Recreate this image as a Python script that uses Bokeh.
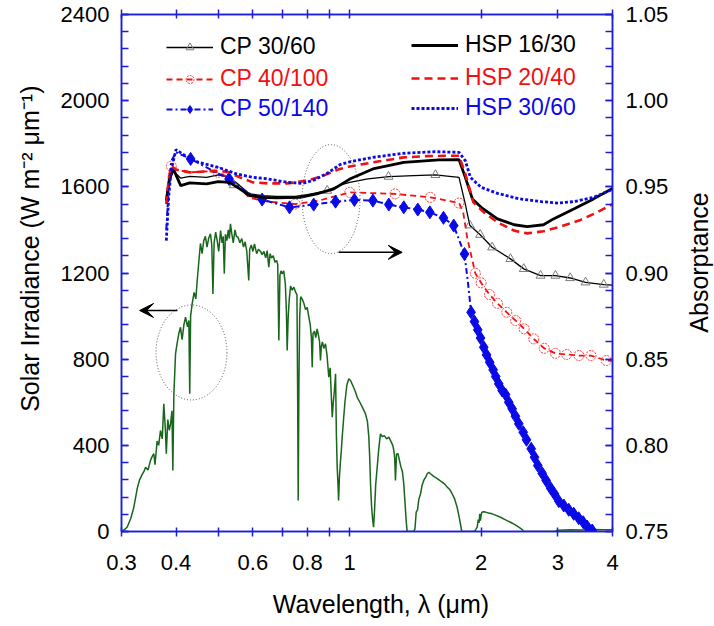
import math
from bokeh.plotting import figure
from bokeh.layouts import row
from bokeh.models import (Range1d, LinearAxis, LogAxis, FixedTicker, NumeralTickFormatter,
                          Legend, LegendItem, Arrow, VeeHead, Label)
from bokeh.embed import file_html
from bokeh.resources import INLINE

# ---------------- data ----------------
# Solar spectral irradiance (W m^-2 um^-1), left axis
SOL_WL = [0.300, 0.305, 0.309, 0.315, 0.320, 0.326, 0.330, 0.334, 0.338, 0.3406,
          0.345, 0.3496, 0.353, 0.3558, 0.358, 0.362, 0.365, 0.3685, 0.372, 0.375,
          0.378, 0.380, 0.383, 0.386, 0.3886, 0.3915, 0.3933, 0.3955, 0.399, 0.402,
          0.406, 0.4096, 0.413, 0.417, 0.4206, 0.425, 0.428, 0.430, 0.432, 0.4355,
          0.440, 0.444, 0.4473, 0.451, 0.455, 0.459, 0.463, 0.467, 0.471, 0.475,
          0.4797, 0.483, 0.486, 0.489, 0.493, 0.497, 0.501, 0.506, 0.510, 0.513,
          0.516, 0.519, 0.523, 0.527, 0.530, 0.533, 0.537, 0.541, 0.546, 0.550,
          0.555, 0.560, 0.566, 0.571, 0.576, 0.581, 0.587, 0.590, 0.595, 0.600,
          0.605, 0.612, 0.618, 0.6246, 0.630, 0.636, 0.642, 0.647, 0.6525, 0.657,
          0.662, 0.668, 0.674, 0.680, 0.684, 0.688, 0.692, 0.696, 0.700, 0.706,
          0.712, 0.716, 0.719, 0.723, 0.727, 0.732, 0.738, 0.745, 0.752, 0.757,
          0.760, 0.762, 0.765, 0.768, 0.772, 0.778, 0.785, 0.792, 0.799, 0.806,
          0.812, 0.817, 0.8205, 0.824, 0.830, 0.836, 0.842, 0.848, 0.853, 0.857,
          0.861, 0.866, 0.872, 0.880, 0.887, 0.8955, 0.902, 0.907, 0.912, 0.917,
          0.922, 0.928, 0.932, 0.936, 0.940, 0.943, 0.947, 0.952, 0.957, 0.961,
          0.968, 0.975, 0.985, 0.995, 1.005, 1.015, 1.030, 1.040, 1.055, 1.070,
          1.087, 1.098, 1.106, 1.111, 1.116, 1.122, 1.128, 1.134, 1.140, 1.147,
          1.156, 1.165, 1.176, 1.188, 1.200, 1.215, 1.229, 1.245, 1.255, 1.262,
          1.268, 1.273, 1.280, 1.290, 1.300, 1.310, 1.320, 1.330, 1.340, 1.347,
          1.353, 1.360, 1.400, 1.410, 1.414, 1.420, 1.430, 1.440, 1.453, 1.465,
          1.480, 1.495, 1.505, 1.518, 1.531, 1.545, 1.560, 1.575, 1.586, 1.605,
          1.625, 1.650, 1.6725, 1.695, 1.717, 1.740, 1.762, 1.780, 1.793, 1.806,
          1.930, 1.945, 1.959, 1.970, 1.978, 1.986, 1.993, 2.000, 2.007, 2.020,
          2.047, 2.080, 2.12, 2.165, 2.215, 2.27, 2.335, 2.39, 2.44, 2.48,
          2.505, 2.95, 3.0, 3.2, 3.4, 3.6, 3.8, 4.0]
SOL_E = [0, 10, 20, 60, 110, 200, 240, 262, 280, 298,
         285, 330, 350, 361, 310, 420, 400, 469, 430, 593,
         480, 361, 520, 470, 500, 560, 283, 640, 826, 870,
         920, 948, 890, 960, 995, 950, 980, 639, 1000, 1057,
         1110, 1080, 1165, 1250, 1337, 1290, 1350, 1370, 1320, 1360,
         1382, 1330, 1103, 1340, 1390, 1350, 1300, 1397, 1340, 1370,
         1197, 1380, 1350, 1400, 1360, 1428, 1380, 1340, 1400, 1370,
         1366, 1340, 1360, 1320, 1345, 1300, 1165, 1310, 1330, 1300,
         1335, 1290, 1310, 1300, 1285, 1300, 1270, 1304, 1227, 1290,
         1270, 1280, 1250, 1258, 1240, 887, 1190, 1210, 1196, 1210,
         1150, 1020, 840, 1000, 1080, 1140, 1120, 1134, 1110, 1100,
         600, 144, 700, 1000, 1090, 1080, 1060, 1030, 1040, 995,
         960, 900, 763, 920, 930, 900, 941, 910, 880, 794,
         860, 880, 850, 871, 820, 716, 760, 640, 531, 600,
         650, 732, 453, 300, 220, 144, 250, 320, 380, 438,
         520, 600, 680, 709, 700, 680, 650, 623, 600, 575,
         546, 510, 438, 350, 221, 120, 60, 20, 100, 220,
         298, 380, 453, 440, 445, 430, 438, 415, 400, 376,
         340, 237, 360, 361, 330, 300, 280, 221, 120, 50,
         5, 0, 0, 10, 37, 90, 100, 150, 175, 215,
         240, 255, 268, 275, 268, 262, 255, 250, 245, 238,
         230, 220, 206, 195, 175, 150, 113, 70, 36, 0,
         0, 10, 20, 55, 40, 82, 50, 75, 88, 92,
         90, 86, 82, 75, 66, 55, 43, 32, 20, 10,
         0, 0, 6, 8, 7, 9, 8, 8]

# Absorptance series (right axis)
CP30_WL = [0.38, 0.385, 0.39, 0.395, 0.41, 0.43, 0.47, 0.50, 0.53, 0.56, 0.59, 0.63, 0.68,
           0.75, 0.80, 0.89, 0.95, 1.0, 1.1, 1.23, 1.4, 1.57, 1.78, 1.84, 1.884, 1.99,
           2.12, 2.335, 2.505, 2.736, 2.96, 3.2, 3.47, 3.82, 4.0]
CP30_A = [0.944, 0.952, 0.956, 0.959, 0.955, 0.9561, 0.9555, 0.9569, 0.9555, 0.9507, 0.9459,
          0.9449, 0.9445, 0.9445, 0.9455, 0.9478, 0.951, 0.9526, 0.9546, 0.9559, 0.9565,
          0.9569, 0.9555, 0.940, 0.9277, 0.9222, 0.9149, 0.9082, 0.9024, 0.8985, 0.8985,
          0.8971, 0.8946, 0.8933, 0.893]
CP30_MK_WL = [0.542, 0.888, 1.227, 1.572, 1.884, 1.99, 2.12, 2.335, 2.505, 2.736, 2.96, 3.2,
              3.47, 3.82]
CP30_MK_A = [0.951, 0.9478, 0.9559, 0.9569, 0.9277, 0.9222, 0.9149, 0.9082, 0.9024, 0.8985,
             0.8985, 0.8971, 0.8946, 0.8933]

CP40_WL = [0.38, 0.385, 0.39, 0.40, 0.43, 0.47, 0.50, 0.53, 0.56, 0.59, 0.65, 0.75, 0.85,
           0.94, 1.0, 1.27, 1.53, 1.78, 1.82, 1.86, 1.94, 2.0, 2.09, 2.18, 2.29, 2.40, 2.51,
           2.64, 2.79, 2.96, 3.14, 3.35, 3.57, 3.87, 4.0]
CP40_A = [0.940, 0.955, 0.962, 0.960, 0.9584, 0.959, 0.9584, 0.955, 0.949, 0.9436, 0.9414,
          0.940, 0.942, 0.9449, 0.9468, 0.9459, 0.9439, 0.9406, 0.935, 0.920, 0.8998, 0.8943,
          0.8875, 0.8824, 0.8772, 0.8724, 0.8676, 0.8618, 0.8563, 0.8534, 0.8527, 0.8521,
          0.8521, 0.8492, 0.849]
CP40_MK_WL = [0.39, 0.50, 0.75, 1.0, 1.27, 1.53, 1.78, 1.94, 2.0, 2.09, 2.18, 2.29, 2.40,
              2.51, 2.64, 2.79, 2.96, 3.14, 3.35, 3.57, 3.87]
CP40_MK_A = [0.962, 0.9584, 0.940, 0.9468, 0.9459, 0.9439, 0.9406, 0.8998, 0.8943, 0.8875,
             0.8824, 0.8772, 0.8724, 0.8676, 0.8618, 0.8563, 0.8534, 0.8527, 0.8521, 0.8521,
             0.8492]

CP50_MK_WL = [0.432, 0.529, 0.63, 0.728, 0.827, 0.928, 1.025, 1.13, 1.229, 1.33, 1.432,
              1.526, 1.64, 1.731, 1.832, 1.897, 1.931, 1.965, 1.994, 2.028, 2.058, 2.093,
              2.131, 2.16, 2.195, 2.235, 2.275, 2.314, 2.356, 2.397, 2.44, 2.4975, 2.541,
              2.605, 2.651, 2.697, 2.76, 2.819, 2.883, 2.946, 3.013, 3.093, 3.176, 3.26,
              3.347, 3.427, 3.5, 3.594]
CP50_MK_A = [0.9662, 0.9546, 0.9426, 0.9381, 0.9397, 0.9414, 0.9424, 0.942, 0.9397, 0.9381,
             0.9368, 0.9352, 0.932, 0.9275, 0.911, 0.8772, 0.8718, 0.867, 0.8623, 0.8569,
             0.8525, 0.8482, 0.8438, 0.8399, 0.8357, 0.8318, 0.8295, 0.825, 0.8212, 0.8169,
             0.8125, 0.8076, 0.8032, 0.798, 0.7931, 0.7883, 0.7838, 0.7796, 0.7753, 0.7718,
             0.7676, 0.7651, 0.7626, 0.7603, 0.7577, 0.7554, 0.7529, 0.7506]
CP50_WL = [0.38, 0.385, 0.39, 0.40, 0.432, 0.48, 0.529, 0.58, 0.63, 0.728, 0.827, 0.928,
           1.025, 1.13, 1.229, 1.33, 1.432, 1.526, 1.64, 1.731, 1.832, 1.865] + CP50_MK_WL[15:] + [3.65]
CP50_A = [0.925, 0.950, 0.965, 0.970, 0.9662, 0.960, 0.9546, 0.947, 0.9426, 0.9381, 0.9397,
          0.9414, 0.9424, 0.942, 0.9397, 0.9381, 0.9368, 0.9352, 0.932, 0.9275, 0.911,
          0.895] + CP50_MK_A[15:] + [0.748]

HSP16_WL = [0.38, 0.385, 0.39, 0.395, 0.41, 0.43, 0.47, 0.50, 0.53, 0.56, 0.59, 0.63, 0.68,
            0.77, 0.84, 0.92, 0.95, 1.0, 1.13, 1.33, 1.6, 1.78, 1.84, 1.91, 2.0, 2.18, 2.38,
            2.55, 2.78, 2.93, 3.26, 3.62, 3.94, 4.0]
HSP16_A = [0.942, 0.952, 0.958, 0.960, 0.9507, 0.9523, 0.9517, 0.953, 0.9526, 0.9488, 0.9449,
           0.9439, 0.9436, 0.9439, 0.9459, 0.9488, 0.951, 0.9545, 0.9604, 0.9642, 0.9656,
           0.9658, 0.9555, 0.943, 0.9381, 0.9314, 0.928, 0.9269, 0.928, 0.9314, 0.9372,
           0.943, 0.9482, 0.949]

HSP20_WL = [0.38, 0.385, 0.39, 0.40, 0.43, 0.47, 0.50, 0.53, 0.56, 0.60, 0.65, 0.72, 0.80,
            0.87, 0.94, 1.0, 1.13, 1.33, 1.5, 1.65, 1.78, 1.84, 1.92, 2.03, 2.18, 2.38, 2.55,
            2.78, 3.04, 3.38, 3.69, 3.94, 4.0]
HSP20_A = [0.940, 0.955, 0.962, 0.960, 0.9584, 0.959, 0.9594, 0.9584, 0.9555, 0.9526, 0.952,
           0.952, 0.9536, 0.9565, 0.960, 0.9618, 0.9642, 0.9671, 0.9678, 0.968, 0.968, 0.9575,
           0.941, 0.9352, 0.9294, 0.9246, 0.923, 0.9242, 0.9269, 0.9308, 0.9352, 0.9391, 0.940]

HSP30_WL = [0.38, 0.385, 0.39, 0.40, 0.42, 0.45, 0.50, 0.55, 0.60, 0.65, 0.72, 0.78, 0.83,
            0.89, 0.95, 1.0, 1.13, 1.32, 1.57, 1.78, 1.84, 1.89, 2.0, 2.18, 2.45, 2.75, 3.0,
            3.26, 3.62, 3.94, 4.0]
HSP30_A = [0.9188, 0.945, 0.960, 0.9716, 0.968, 0.9642, 0.9613, 0.9575, 0.9555, 0.9546,
           0.9526, 0.952, 0.954, 0.958, 0.9629, 0.9645, 0.9671, 0.9694, 0.9704, 0.970, 0.9652,
           0.9555, 0.9497, 0.9462, 0.943, 0.9414, 0.9406, 0.9414, 0.9439, 0.9478, 0.949]

X_TICKS = [0.3, 0.4, 0.5, 0.6, 0.7, 0.8, 0.9, 1, 2, 3, 4]
X_LABELS = {0.3: "0.3", 0.4: "0.4", 0.5: "", 0.6: "0.6", 0.7: "", 0.8: "0.8", 0.9: "",
            1: "1", 2: "2", 3: "3", 4: "4"}
Y_TICKS = [0, 400, 800, 1200, 1600, 2000, 2400]
A_TICKS = [0.75, 0.80, 0.85, 0.90, 0.95, 1.00, 1.05]

NB = "\u00a0"
X_TITLE = NB * 4 + "Wavelength, \u03bb (\u03bcm)"
Y_TITLE = NB * 7 + "Solar Irradiance (W m\u207b\u00b2 \u03bcm\u207b\u00b9)"
Y2_TITLE = "Absorptance"

# annotation positions (data coordinates) and ellipse sizes (px)
ELL_X = [0.434, 0.906]
ELL_Y = [831, 1543]
ELL_W = [71, 58]
ELL_H = [95, 109]
ARROWS = [(0.403, 1026, 0.330, 1026), (0.943, 1296, 1.319, 1296)]

# ---------------- styling ----------------
FONT = "Liberation Sans"
AXC = "#1e1ed8"
RED = "#f01010"
BLUE = "#0a0ae6"
GREEN = "#17661b"
FW, FH = 491, 517
B_L, B_R, B_T, B_B = 121, 70, 14, 86
TOTAL_H = B_T + FH + B_B
SIDE_W = 32
Y2_TITLE_Y = 266   # screen px from the bottom of the side strip

p = figure(x_axis_type="log", x_range=Range1d(0.3, 4), y_range=Range1d(0, 2400),
           frame_width=FW, frame_height=FH, output_backend="svg", toolbar_location=None,
           min_border_left=B_L, min_border_right=B_R, min_border_top=B_T,
           min_border_bottom=B_B, background_fill_color="white", border_fill_color="white")
p.extra_y_ranges = {"abs": Range1d(0.75, 1.05)}
p.xgrid.grid_line_color = None
p.ygrid.grid_line_color = None
p.outline_line_color = AXC
p.outline_line_width = 1.5


def style_axis(ax):
    ax.axis_line_color = AXC
    ax.axis_line_width = 1.5
    ax.major_tick_line_color = AXC
    ax.minor_tick_line_color = AXC
    ax.major_tick_line_width = 1.5
    ax.minor_tick_line_width = 1.5
    ax.major_label_text_font = FONT
    ax.major_label_text_font_size = "22px"
    ax.major_label_text_color = "black"
    ax.axis_label_text_font = FONT
    ax.axis_label_text_font_size = "25px"
    ax.axis_label_text_font_style = "normal"
    ax.axis_label_text_color = "black"


xa = p.xaxis[0]
style_axis(xa)
xa.ticker = FixedTicker(ticks=X_TICKS, minor_ticks=[])
xa.major_label_overrides = X_LABELS
xa.major_tick_in = 4
xa.major_tick_out = 5
xa.major_label_standoff = 18
xa.axis_label = X_TITLE
xa.axis_label_standoff = 17

top = LogAxis(ticker=FixedTicker(ticks=X_TICKS, minor_ticks=[]))
style_axis(top)
top.major_label_text_font_size = "0px"
top.major_label_text_color = None
top.major_label_standoff = 0
top.major_tick_in = 4
top.major_tick_out = 5
p.add_layout(top, "above")

ya = p.yaxis[0]
style_axis(ya)
ya.ticker = FixedTicker(ticks=Y_TICKS, minor_ticks=[80 * i for i in range(31)])
ya.major_tick_in = 7
ya.major_tick_out = 0
ya.minor_tick_in = 7
ya.minor_tick_out = 0
ya.major_label_standoff = 12
ya.axis_label = Y_TITLE
ya.axis_label_standoff = 14

ra = LinearAxis(y_range_name="abs",
                ticker=FixedTicker(ticks=A_TICKS,
                                   minor_ticks=[round(0.75 + 0.01 * i, 2) for i in range(31)]),
                formatter=NumeralTickFormatter(format="0.00"))
style_axis(ra)
ra.major_tick_in = 7
ra.major_tick_out = 0
ra.minor_tick_in = 7
ra.minor_tick_out = 0
ra.major_label_standoff = 13
p.add_layout(ra, "right")

# ---------------- glyphs ----------------
p.line(SOL_WL, SOL_E, line_color=GREEN, line_width=1.5)

r_cp30 = p.line(CP30_WL, CP30_A, y_range_name="abs", line_color="black", line_width=1.3)
m_cp30 = p.scatter(CP30_MK_WL, CP30_MK_A, y_range_name="abs", marker="triangle", size=9,
                   fill_color=None, line_color="#7a7a7a", line_width=1)
r_cp40 = p.line(CP40_WL, CP40_A, y_range_name="abs", line_color=RED, line_width=1.8,
                line_dash="6 4")
m_cp40 = p.scatter(CP40_MK_WL, CP40_MK_A, y_range_name="abs", marker="circle", size=10,
                   fill_color=None, line_color="#ff3b3b", line_width=1, line_dash="2 1")
r_cp50 = p.line(CP50_WL, CP50_A, y_range_name="abs", line_color=BLUE, line_width=2,
                line_dash="6 3 2 3")
m_cp50 = p.scatter(CP50_MK_WL, CP50_MK_A, y_range_name="abs", marker="diamond", size=13,
                   fill_color=BLUE, line_color=BLUE)
r_h16 = p.line(HSP16_WL, HSP16_A, y_range_name="abs", line_color="black", line_width=2.8)
r_h20 = p.line(HSP20_WL, HSP20_A, y_range_name="abs", line_color=RED, line_width=2.6,
               line_dash="8 5")
r_h30 = p.line(HSP30_WL, HSP30_A, y_range_name="abs", line_color=BLUE, line_width=2.8,
               line_dash="3 2")

# annotations
p.ellipse(ELL_X, ELL_Y, width=ELL_W, height=ELL_H, width_units="screen",
          height_units="screen", fill_color=None, line_color="#555555", line_width=1,
          line_dash="1 2")
for (x0, y0, x1, y1) in ARROWS:
    p.add_layout(Arrow(end=VeeHead(size=14, fill_color="black", line_color="black",
                                   line_width=1),
                       x_start=x0, y_start=y0, x_end=x1, y_end=y1,
                       line_color="black", line_width=1.5))

# legends (one per entry so each label can have its own colour)
LEG = [("CP 30/60", [r_cp30, m_cp30], "black", (45, 471)),
       ("CP 40/100", [r_cp40, m_cp40], RED, (45, 439)),
       ("CP 50/140", [r_cp50, m_cp50], BLUE, (45, 409)),
       ("HSP 16/30", [r_h16], "black", (290, 473)),
       ("HSP 20/40", [r_h20], RED, (290, 440)),
       ("HSP 30/60", [r_h30], BLUE, (290, 410))]
for label, rends, col, loc in LEG:
    lg = Legend(items=[LegendItem(label=label, renderers=rends)], location=loc,
                label_text_color=col, label_text_font=FONT, label_text_font_size="23px",
                glyph_width=47, glyph_height=20, label_standoff=7, padding=0, margin=0,
                spacing=0, background_fill_alpha=0, border_line_alpha=0)
    p.add_layout(lg)

# narrow side strip carrying the right-hand axis title (reads bottom-to-top)
side = figure(width=SIDE_W, height=TOTAL_H, x_range=Range1d(0, 1), y_range=Range1d(0, 1),
              x_axis_location=None, y_axis_location=None, output_backend="svg",
              toolbar_location=None, min_border=0, outline_line_color=None,
              background_fill_color="white", border_fill_color="white")
side.xgrid.grid_line_color = None
side.ygrid.grid_line_color = None
side.add_layout(Label(x=16, y=Y2_TITLE_Y, x_units="screen", y_units="screen",
                      text=Y2_TITLE, angle=math.pi / 2, anchor="center",
                      text_font=FONT, text_font_size="25px", text_color="black"))

layout = row(p, side, spacing=0)
open("out.html", "w").write(file_html(layout, INLINE))
